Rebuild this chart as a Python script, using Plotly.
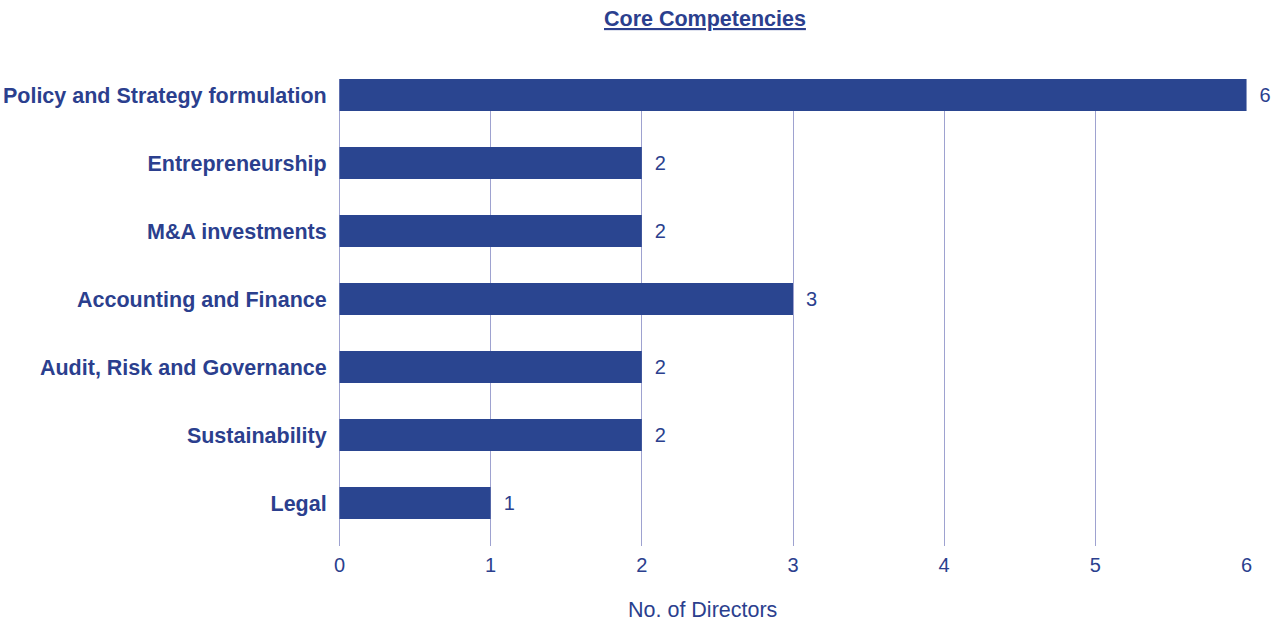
import plotly.graph_objects as go

competencies = [
    "Policy and Strategy formulation",
    "Entrepreneurship",
    "M&A investments",
    "Accounting and Finance",
    "Audit, Risk and Governance",
    "Sustainability",
    "Legal",
]
directors = [6, 2, 2, 3, 2, 2, 1]
x_ticks = [0, 1, 2, 3, 4, 5, 6]

navy = "#2a4590"
text_navy = "#2b3f8e"
grid_col = "#9ea2d0"
font_family = "Liberation Sans, Arial, Helvetica, sans-serif"

plot_left, plot_right, plot_top, plot_bottom = 339, 1247, 79, 546
plot_w = plot_right - plot_left
plot_h = plot_bottom - plot_top

fig = go.Figure(
    go.Bar(
        x=directors,
        y=competencies,
        orientation="h",
        marker=dict(color=navy, line=dict(width=0)),
        width=0.47,
        text=[str(v) for v in directors],
        texttemplate="\u2002%{text}",
        textposition="outside",
        textfont=dict(size=20, color=text_navy, family=font_family),
        cliponaxis=False,
    )
)

fig.update_layout(
    width=1277,
    height=625,
    margin=dict(l=plot_left, r=1277 - plot_right, t=plot_top, b=625 - plot_bottom),
    plot_bgcolor="white",
    paper_bgcolor="white",
    showlegend=False,
    font=dict(family=font_family, color=text_navy),
    xaxis=dict(
        range=[-0.003, 6.003],
        tickvals=x_ticks,
        showgrid=True,
        gridcolor=grid_col,
        gridwidth=1,
        zeroline=True,
        zerolinecolor=grid_col,
        zerolinewidth=1,
        showline=False,
        automargin=False,
        tickfont=dict(size=20, color=text_navy),
        ticks="outside",
        ticklen=1,
        tickcolor="rgba(0,0,0,0)",
    ),
    yaxis=dict(
        type="category",
        categoryorder="array",
        categoryarray=competencies,
        tickvals=competencies,
        ticktext=[f"<b>{c}</b>" for c in competencies],
        range=[6.632, -0.235],
        showgrid=False,
        zeroline=False,
        showline=False,
        automargin=False,
        ticks="outside",
        ticklen=7,
        tickcolor="rgba(0,0,0,0)",
        tickfont=dict(size=21.5, color=text_navy),
    ),
    annotations=[
        dict(
            text="<b><u>Core Competencies</u></b>",
            xref="paper",
            yref="paper",
            x=(704.5 - plot_left) / plot_w,
            y=1 + (plot_top - 19) / plot_h,
            xanchor="center",
            yanchor="middle",
            showarrow=False,
            font=dict(size=21.5, color=text_navy),
        ),
        dict(
            text="No. of Directors",
            xref="paper",
            yref="paper",
            x=(702.5 - plot_left) / plot_w,
            y=-(610 - plot_bottom) / plot_h,
            xanchor="center",
            yanchor="middle",
            showarrow=False,
            font=dict(size=21.5, color=text_navy),
        ),
    ],
)

fig.write_html("out.html")
